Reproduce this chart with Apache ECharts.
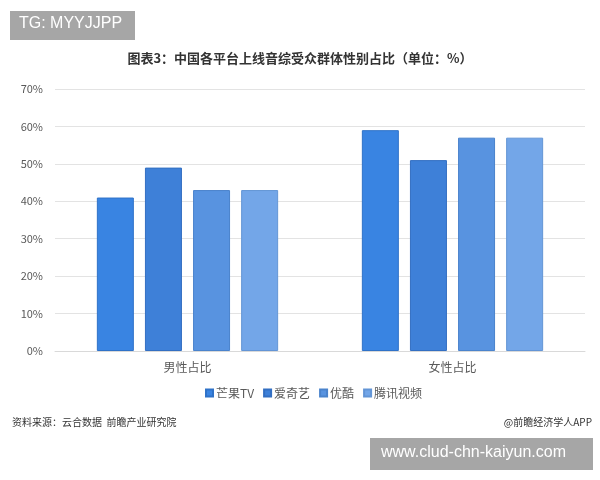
<!DOCTYPE html>
<html>
<head>
<meta charset="utf-8">
<script src="https://cdn.jsdelivr.net/npm/echarts@6/dist/echarts.min.js"></script>
<style>
html,body{margin:0;padding:0;background:#fff;}
#c{width:600px;height:480px;}
</style>
</head>
<body>
<div id="c"></div>
<script>
var categories = ['男性占比', '女性占比'];
var seriesNames = ['芒果TV', '爱奇艺', '优酷', '腾讯视频'];
var mangoTV = [41, 59];
var iqiyi = [49, 51];
var youku = [43, 57];
var tencent = [43, 57];
var yTicks = [0, 10, 20, 30, 40, 50, 60, 70];

var colors = ['#3984e2', '#3e80d8', '#5893e0', '#73a6e8'];
var borders = ['#2f72c8', '#336fc2', '#4a83cc', '#6395d6'];
var values = [mangoTV, iqiyi, youku, tencent];
var FONT = '"Noto Sans CJK SC", "Noto Sans", sans-serif';

var chart = echarts.init(document.getElementById('c'), null, {renderer: 'canvas'});
var series = seriesNames.map(function (n, i) {
  return {
    name: n,
    type: 'bar',
    data: values[i],
    barWidth: 37,
    barGap: '30%',
    itemStyle: {color: colors[i], borderColor: borders[i], borderWidth: 1}
  };
});
chart.setOption({
  animation: false,
  textStyle: {fontFamily: FONT},
  title: {
    text: '图表3：中国各平台上线音综受众群体性别占比（单位：%）',
    left: 'center', top: 47,
    textStyle: {fontSize: 13, fontWeight: 'bold', color: '#333', fontFamily: FONT}
  },
  legend: {
    data: seriesNames,
    bottom: 76,
    left: 200,
    itemWidth: 7, itemHeight: 7, itemGap: 9,
    icon: 'rect',
    textStyle: {fontSize: 12, color: '#595959', fontFamily: FONT, padding: [0, 0, 0, -2]}
  },
  grid: {left: 55, right: 15, top: 89, bottom: 129},
  xAxis: {
    type: 'category',
    data: categories,
    axisLine: {lineStyle: {color: '#d9d9d9'}},
    axisTick: {show: false},
    axisLabel: {fontSize: 12, color: '#595959', margin: 10, fontFamily: FONT}
  },
  yAxis: {
    type: 'value',
    min: 0, max: 70, interval: 10,
    axisLine: {show: false},
    axisTick: {show: false},
    splitLine: {lineStyle: {color: '#e3e3e3'}},
    axisLabel: {fontSize: 11, color: '#595959', margin: 12, formatter: '{value}%'}
  },
  series: series,
  graphic: [
    {type: 'rect', left: 10, top: 11, shape: {width: 125, height: 29}, style: {fill: '#a6a6a6'}},
    {type: 'text', left: 19, top: 16, style: {text: 'TG: MYYJJPP', fill: '#fff', font: '16px "Liberation Sans", Arial, sans-serif'}},
    {type: 'text', left: 12, top: 417, style: {text: '资料来源：云合数据  前瞻产业研究院', fill: '#333', font: '10px ' + FONT}},
    {type: 'text', right: 8, top: 417, style: {text: '@前瞻经济学人APP', fill: '#333', font: '10px ' + FONT}},
    {type: 'rect', left: 370, top: 438, shape: {width: 223, height: 32}, style: {fill: '#a6a6a6'}},
    {type: 'text', left: 381, top: 445, style: {text: 'www.clud-chn-kaiyun.com', fill: '#fff', font: '16px "Liberation Sans", Arial, sans-serif'}}
  ]
});
</script>
</body>
</html>
